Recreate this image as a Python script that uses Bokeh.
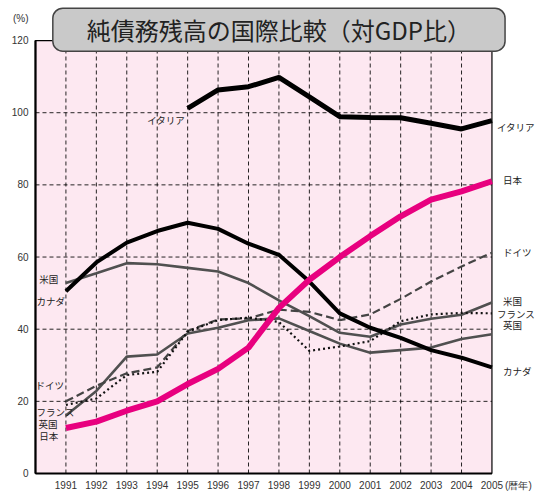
from bokeh.plotting import figure
from bokeh.models import Label, FixedTicker, Range1d
from bokeh.embed import file_html
from bokeh.resources import INLINE

nan = float("nan")
years = list(range(1991, 2006))
japan = [12.6, 14.4, 17.4, 20.0, 24.8, 29.0, 34.9, 45.9, 53.7, 60.0, 65.8, 71.3, 75.9, 78.2, 81.0]
italy = [nan, nan, nan, nan, 101.2, 106.3, 107.2, 109.8, 104.4, 98.9, 98.7, 98.6, 97.1, 95.5, 97.8]
canada = [50.5, 58.5, 64.0, 67.2, 69.5, 67.8, 63.7, 60.6, 53.2, 44.4, 40.4, 37.6, 34.2, 32.1, 29.4]
usa = [52.8, 55.5, 58.3, 58.0, 57.0, 56.0, 52.8, 48.0, 43.6, 39.0, 37.9, 41.3, 42.9, 44.0, 47.4]
germany = [20.0, 24.3, 27.8, 29.4, 39.5, 42.7, 43.0, 45.4, 44.8, 42.5, 44.1, 48.4, 53.2, 57.4, 61.2]
france = [19.0, 20.8, 27.3, 28.2, 39.3, 42.5, 43.2, 42.0, 34.0, 35.2, 36.7, 42.2, 44.1, 44.5, 44.4]
uk = [16.1, 22.9, 32.4, 33.0, 38.8, 40.4, 42.5, 43.0, 39.5, 36.0, 33.5, 34.2, 34.9, 37.3, 38.6]
y_ticks = [0, 20, 40, 60, 80, 100, 120]
x_first, x_last = 1990, 2005
y_bottom, y_top = 0, 120

title_text = "純債務残高の国際比較（対GDP比）"
unit_text = "(%)"
xunit_text = "(暦年)"
unit_pos = 126
xunit_pos = 2005.87

JP = "Noto Sans CJK JP"
NUM = "Liberation Sans"
LBL = "#222222"

p = figure(width=536, height=493,
           x_range=Range1d(1989.869, 2006.464), y_range=Range1d(-0.55, 131.1),
           output_backend="svg", toolbar_location=None,
           min_border_left=31, min_border_right=0, min_border_top=0, min_border_bottom=16,
           background_fill_color="white", border_fill_color="white")
p.outline_line_color = None
p.xgrid.visible = False
p.ygrid.visible = False

# axes (tick labels only; lines drawn as part of the frame below)
xt = years + [xunit_pos]
yt = y_ticks + [unit_pos]
p.xaxis.ticker = FixedTicker(ticks=xt)
p.yaxis.ticker = FixedTicker(ticks=yt)
p.xaxis.major_label_overrides = {**{y: str(y) for y in years}, xunit_pos: xunit_text}
p.yaxis.major_label_overrides = {**{v: str(v) for v in y_ticks}, unit_pos: unit_text}
for ax in (p.xaxis, p.yaxis):
    ax.axis_line_color = None
    ax.major_tick_line_color = None
    ax.minor_tick_line_color = None
    ax.major_tick_out = 0
    ax.major_tick_in = 0
    ax.major_label_text_font = NUM
    ax.major_label_text_font_size = "10px"
    ax.major_label_text_color = "#333333"
p.yaxis.major_label_standoff = 3
p.xaxis.major_label_standoff = 4

# plot area
p.quad(left=x_first, right=x_last, bottom=y_bottom, top=y_top,
       fill_color="#fde8f1", line_color="black", line_width=1.2)
gx = years[:-1]
p.segment(x0=gx, y0=[y_bottom] * len(gx), x1=gx, y1=[y_top] * len(gx),
          line_color="black", line_width=1, line_dash="4 3", line_alpha=0.85)
gy = y_ticks[1:-1]
p.segment(x0=[x_first] * len(gy), y0=gy, x1=[x_last] * len(gy), y1=gy,
          line_color="black", line_width=1, line_dash="4 3", line_alpha=0.85)
p.segment(x0=[x_first], y0=[y_bottom], x1=[x_first], y1=[y_top], line_color="black", line_width=2.2)
p.segment(x0=[x_first], y0=[y_bottom], x1=[x_last], y1=[y_bottom], line_color="black", line_width=2)

# series lines
p.line(years, usa, line_color="#505050", line_width=2.6)
p.line(years, uk, line_color="#505050", line_width=2.6)
p.line(years, germany, line_color="#444444", line_width=2.2, line_dash="8 4")
p.line(years, france, line_color="#111111", line_width=2.2, line_dash="2 3")
p.line(years, canada, line_color="black", line_width=4)
p.line(years, italy, line_color="black", line_width=5)
p.line(years, japan, line_color="#e8007f", line_width=6)

# title box
p.add_layout(Label(x=1998, y=123.0, text=title_text, text_align="center",
                   text_baseline="middle", text_font=JP, text_font_size="24px",
                   text_color="#222222", background_fill_color="#c9c9c9",
                   border_line_color="#444444", border_line_width=1.5,
                   border_radius=10, padding=dict(left=34, right=34, top=4, bottom=4)))

# series labels
left_names = ["米国", "カナダ", "ドイツ", "フランス", "英国", "日本"]
left_x = [1990.12, 1990.03, 1990.0, 1990.03, 1990.1, 1990.12]
left_y = [53.8, 47.9, 24.4, 17.1, 13.8, 10.3]
for n, lx, ly in zip(left_names, left_x, left_y):
    p.add_layout(Label(x=lx, y=ly, text=n, text_align="left", text_baseline="middle",
                       text_font=JP, text_font_size="9.5px", text_color=LBL))

right_names = ["イタリア", "日本", "ドイツ", "米国", "フランス", "英国", "カナダ"]
right_y = [96.1, 81.4, 61.4, 47.9, 44.2, 41.2, 28.3]
right_dx = [5, 11, 11, 11, 5, 11, 11]
for n, ry, dx in zip(right_names, right_y, right_dx):
    p.add_layout(Label(x=x_last, y=ry, x_offset=dx, text=n, text_align="left",
                       text_baseline="middle", text_font=JP, text_font_size="9.5px",
                       text_color=LBL))

p.add_layout(Label(x=1994.92, y=98.0, text="イタリア", text_align="right",
                   text_baseline="middle", text_font=JP, text_font_size="9.5px",
                   text_color=LBL))

open("out.html", "w").write(file_html(p, INLINE))
